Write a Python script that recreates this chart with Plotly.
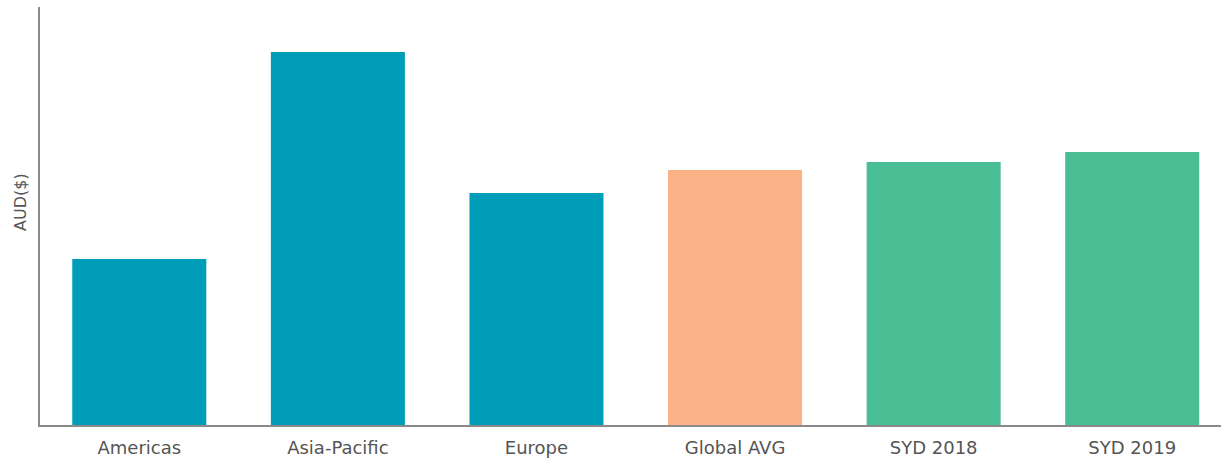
import plotly.graph_objects as go

categories = ["Americas", "Asia-Pacific", "Europe", "Global AVG", "SYD 2018", "SYD 2019"]
values = [166, 373, 232, 255, 263, 273]
colors = ["#009DB9", "#009DB9", "#009DB9", "#FAB286", "#49BE95", "#49BE95"]

fig = go.Figure(go.Bar(
    x=list(range(len(categories))), y=values,
    marker=dict(color=colors, line=dict(width=0)),
    width=0.675,
))

fig.update_layout(
    width=1221, height=458,
    margin=dict(l=40, r=0, t=7, b=33),
    paper_bgcolor="white", plot_bgcolor="white",
    showlegend=False,
    font=dict(family="DejaVu Sans, sans-serif", color="#555555"),
    xaxis=dict(
        tickmode="array", tickvals=list(range(len(categories))), ticktext=categories,
        range=[-0.5, 5.447], showgrid=False, zeroline=False,
        showline=True, linecolor="#8a8a8a", linewidth=2,
        tickfont=dict(size=18, color="#555555"), ticks="", ticklen=0,
        ticklabelstandoff=5,
    ),
    yaxis=dict(
        range=[0, 418], showgrid=False, zeroline=False, showticklabels=False,
        showline=True, linecolor="#8a8a8a", linewidth=2,
    ),
    annotations=[dict(
        text="AUD($)", textangle=-90, xref="paper", yref="paper",
        x=-20 / 1181, y=(425 - 202) / 418, xanchor="center", yanchor="middle",
        showarrow=False, font=dict(size=16, color="#555555"),
    )],
)

fig.write_html("out.html")
